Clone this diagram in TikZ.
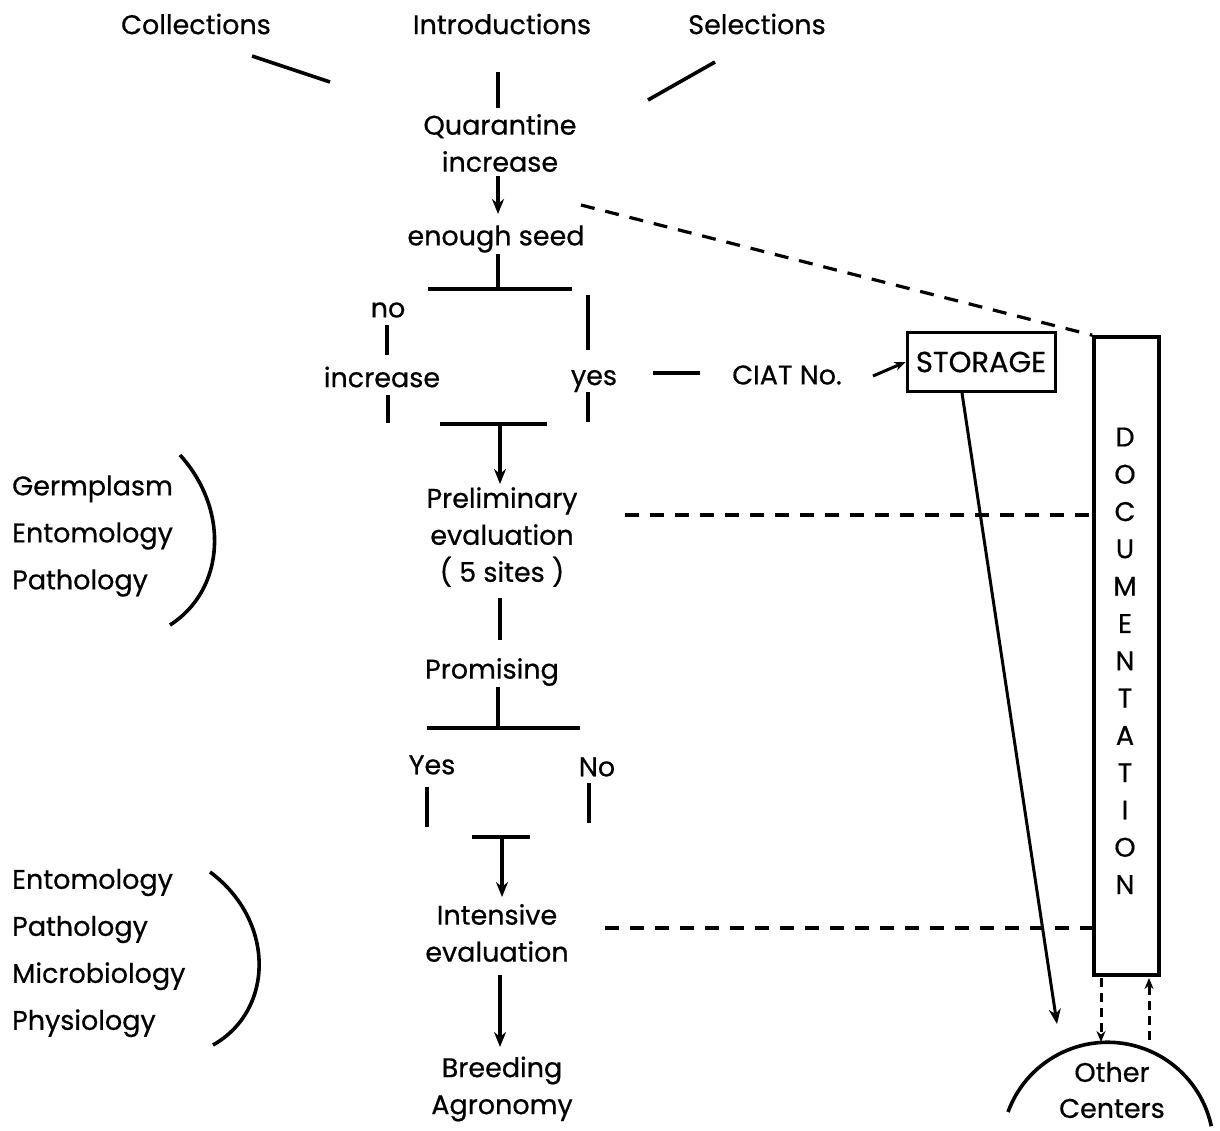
\documentclass[tikz,border=0pt]{standalone}
\usepackage{fontspec}
\setmainfont{Poppins}[UprightFeatures={FakeBold=0.6}]
\usetikzlibrary{arrows.meta}
\begin{document}
\begin{tikzpicture}[x=1pt,y=-1pt,
  lbl/.style={font=\fontsize{27}{37}\selectfont, inner sep=0pt, align=center},
  grp/.style={font=\fontsize{27}{47}\selectfont, inner sep=0pt, align=left, anchor=west},
  ln/.style={line width=3.6pt},
  dsh/.style={line width=3.2pt, dash pattern=on 14pt off 11pt},
  arr/.style={-{Stealth[length=15pt,width=12pt]}},
  sarr/.style={-{Stealth[length=11pt,width=9pt]}},
]
\useasboundingbox (0,0) rectangle (1220,1130);
% texts
\node[lbl] (col) at (196,24) {Collections};
\node[lbl] (intro) at (502,24) {Introductions};
\node[lbl] (sel) at (757,24) {Selections};
\node[lbl] (quar) at (500,143) {Quarantine\\increase};
\node[lbl] (enough) at (496,239) {enough seed};
\node[lbl] (no) at (388,310) {no};
\node[lbl] (incr) at (382,377) {increase};
\node[lbl] (yes) at (594,381) {yes};
\node[lbl] (ciat) at (787,375) {CIAT No.};
\node[lbl, font=\fontsize{29}{34}\selectfont, draw, line width=3pt, minimum width=148pt, minimum height=59pt, inner sep=2pt] (stor) at (981,362) {STORAGE};
\node[lbl] (prelim) at (502,537) {Preliminary\\evaluation\\( 5 sites )};
\node[lbl] (prom) at (492,672) {Promising};
\node[lbl] (yes2) at (432,765) {Yes};
\node[lbl] (no2) at (597,767) {No};
\node[lbl] (inten) at (497,933) {Intensive\\evaluation};
\node[lbl] (breed) at (502,1089) {Breeding\\Agronomy};
\node[grp] (grp1) at (12,536) {Germplasm\\Entomology\\Pathology};
\node[grp] (grp2) at (12,953) {Entomology\\Pathology\\Microbiology\\Physiology};
\node[lbl, font=\fontsize{27}{36}\selectfont] (other) at (1112,1090) {Other\\Centers};
\node[draw, line width=3.6pt, minimum width=65pt, minimum height=638pt, inner sep=0pt] (doc) at (1126.5,656) {};
\foreach \l [count=\i from 0] in {D,O,C,U,M,E,N,T,A,T,I,O,N}
  \node[lbl] (d\i) at (1125,437+37.3*\i) {\l};
% coordinates
\coordinate (a1) at (252,56); \coordinate (a2) at (330,82);
\coordinate (b1) at (498,72); \coordinate (b2) at (498,108);
\coordinate (s1) at (715,62); \coordinate (s2) at (648,100);
\coordinate (q1) at (498,176); \coordinate (q2) at (498,214);
\coordinate (e1) at (498,254); \coordinate (e2) at (498,289);
\coordinate (bl1) at (428,289); \coordinate (br1) at (572,289);
\coordinate (n1) at (387,325); \coordinate (n2) at (387,355);
\coordinate (n3) at (388,395); \coordinate (n4) at (388,423);
\coordinate (y1) at (588,295); \coordinate (y2) at (588,350);
\coordinate (y3) at (588,392); \coordinate (y4) at (588,422);
\coordinate (bl2) at (440,424); \coordinate (br2) at (547,424);
\coordinate (m1) at (500,424); \coordinate (m2) at (500,484);
\coordinate (c1) at (653,373); \coordinate (c2) at (700,373);
\coordinate (c3) at (873,376);
\coordinate (st1) at (962,393); \coordinate (st2) at (1057,1024);
\coordinate (ds1) at (581,205);
\coordinate (p1) at (625,515); \coordinate (p2) at (1092,515);
\coordinate (i1) at (605,928); \coordinate (i2) at (1092,928);
\coordinate (pr1) at (500,598); \coordinate (pr2) at (500,640);
\coordinate (pm1) at (498,687); \coordinate (pm2) at (498,728);
\coordinate (bl3) at (427,728); \coordinate (br3) at (580,728);
\coordinate (ye1) at (427,787); \coordinate (ye2) at (427,827);
\coordinate (no1) at (589,783); \coordinate (no3) at (589,823);
\coordinate (bl4) at (472,837); \coordinate (br4) at (530,837);
\coordinate (k1) at (502,837); \coordinate (k2) at (502,897);
\coordinate (t1) at (500,975); \coordinate (t2) at (500,1047);
\coordinate (od1) at (1101,978); \coordinate (od2) at (1101,1042);
\coordinate (ou1) at (1149,1040); \coordinate (ou2) at (1149,978);
% lines
\draw[ln] (a1) -- (a2);
\draw[ln] (b1) -- (b2);
\draw[ln] (s1) -- (s2);
\draw[ln,arr] (q1) -- (q2);
\draw[ln] (e1) -- (e2);
\draw[ln] (bl1) -- (br1);
\draw[ln] (n1) -- (n2);
\draw[ln] (n3) -- (n4);
\draw[ln] (y1) -- (y2);
\draw[ln] (y3) -- (y4);
\draw[ln] (bl2) -- (br2);
\draw[ln,arr] (m1) -- (m2);
\draw[ln] (c1) -- (c2);
\draw[line width=3pt,sarr] (c3) -- (stor.west);
\draw[line width=3pt,arr] (st1) -- (st2);
\draw[dsh] (ds1) -- (doc.north west);
\draw[dsh] (p1) -- (p2);
\draw[dsh] (i1) -- (i2);
\draw[ln] (pr1) -- (pr2);
\draw[ln] (pm1) -- (pm2);
\draw[ln] (bl3) -- (br3);
\draw[ln] (ye1) -- (ye2);
\draw[ln] (no1) -- (no3);
\draw[ln] (bl4) -- (br4);
\draw[ln,arr] (k1) -- (k2);
\draw[ln,arr] (t1) -- (t2);
\draw[line width=3pt, dash pattern=on 9pt off 6pt, sarr] (od1) -- (od2);
\draw[line width=3pt, dash pattern=on 9pt off 6pt, sarr] (ou1) -- (ou2);
% brackets
\draw[ln] (180,455) .. controls (230,510) and (225,590) .. (170,625);
\draw[ln] (210,872) .. controls (275,920) and (275,1010) .. (213,1045);
% other centers arc
\draw[ln] (1008,1112) arc[start angle=160, end angle=12, radius=106pt];
\end{tikzpicture}
\end{document}
